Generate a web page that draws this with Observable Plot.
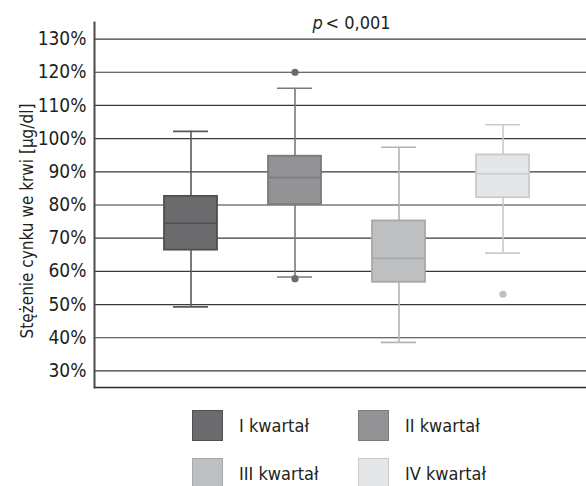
<!DOCTYPE html>
<html>
<head>
<meta charset="utf-8">
<script src="https://cdn.jsdelivr.net/npm/d3@7"></script>
<script src="https://cdn.jsdelivr.net/npm/@observablehq/plot@0.6"></script>
<style>
  html, body { margin: 0; padding: 0; background: #fff; }
  body { width: 586px; height: 486px; overflow: hidden; font-family: "Liberation Sans Narrow", "DejaVu Sans Condensed", "Roboto Condensed", sans-serif; }
  #chart svg { display: block; }
  #legend { position: relative; height: 94px; }
  .item { position: absolute; display: flex; align-items: center; font-size: 18px; color: #231f20; }
  .sw { width: 29px; height: 29px; border: 1px solid; margin-right: 16px; box-sizing: content-box; }
</style>
</head>
<body>
<div id="chart"></div>
<div id="legend"></div>
<script>
// ---- data ----
const categories = ["I kwartał", "II kwartał", "III kwartał", "IV kwartał"];
const whiskerLow = [49.3, 58.3, 38.6, 65.5];
const q1 = [66.4, 80.1, 56.7, 82.2];
const median = [74.5, 88.3, 63.9, 89.4];
const q3 = [82.6, 94.7, 75.2, 95.1];
const whiskerHigh = [102.2, 115.2, 97.4, 104.2];
const outlierCategory = ["II kwartał", "II kwartał", "IV kwartał"];
const outlierValue = [120, 57.8, 53.1];
const yTicks = [30, 40, 50, 60, 70, 80, 90, 100, 110, 120, 130];
const yLabel = "Stężenie cynku we krwi [µg/dl]";
const titleP = "p";
const titleRest = "< 0,001";

// ---- styles ----
const fills = ["#6b6b6e", "#939396", "#bebfc1", "#e5e6e7"];
const strokes = ["#4f4f52", "#7b7b7e", "#a7a8aa", "#c9cacc"];
const whiskerStrokes = ["#59595c", "#7a7a7d", "#b2b3b5", "#c9cacc"];
const dotFills = ["#6b6b6e", "#6b6b6e", "#bebfc1", "#bebfc1"];
const FONT = '"Liberation Sans Narrow", "DejaVu Sans Condensed", "Roboto Condensed", sans-serif';

const boxes = categories.map((c, i) => ({
  cat: c, lo: whiskerLow[i], q1: q1[i], med: median[i], q3: q3[i], hi: whiskerHigh[i]
}));
const outliers = outlierCategory.map((c, i) => ({cat: c, v: outlierValue[i]}));
const idx = c => categories.indexOf(c);

const plot = Plot.plot({
  width: 586,
  height: 392,
  marginLeft: 94,
  marginRight: 0,
  marginTop: 22,
  marginBottom: 5,
  style: {fontFamily: FONT, fontSize: "19px", color: "#231f20", background: "#fff"},
  x: {domain: categories, paddingInner: 0.494, paddingOuter: 0.597, align: 0.548, axis: null},
  y: {domain: [25, 135], axis: null},
  marks: [
    Plot.ruleY(yTicks, {stroke: "#3a3a3a", strokeWidth: 1.2}),
    Plot.ruleY([25], {stroke: "#2a2a2a", strokeWidth: 1.6}),
    Plot.ruleX(boxes, {x: "cat", y1: "lo", y2: "hi", stroke: d => whiskerStrokes[idx(d.cat)], strokeWidth: 1.6}),
    Plot.tickY(boxes, {x: "cat", y: "lo", stroke: d => whiskerStrokes[idx(d.cat)], strokeWidth: 1.6, insetLeft: 9, insetRight: 9}),
    Plot.tickY(boxes, {x: "cat", y: "hi", stroke: d => whiskerStrokes[idx(d.cat)], strokeWidth: 1.6, insetLeft: 9, insetRight: 9}),
    Plot.barY(boxes, {x: "cat", y1: "q1", y2: "q3", fill: d => fills[idx(d.cat)], stroke: d => strokes[idx(d.cat)], strokeWidth: 1.8}),
    Plot.tickY(boxes, {x: "cat", y: "med", stroke: d => strokes[idx(d.cat)], strokeWidth: 1.6}),
    Plot.dot(outliers, {x: "cat", y: "v", r: 3.6, fill: d => dotFills[idx(d.cat)], stroke: "none"}),
    Plot.frame({anchor: "left", stroke: "#4a4a4a", strokeWidth: 2}),
    Plot.axisY(yTicks, {tickSize: 0, tickPadding: 8, tickFormat: d => d + "%", fontSize: 19, label: null}),
    Plot.text([yLabel], {frameAnchor: "left", textAnchor: "middle", rotate: -90, dx: -67, dy: 16, fontSize: 17, fill: "#231f20"}),
    Plot.text([titleP], {frameAnchor: "top-left", dx: 218, dy: 1, lineAnchor: "middle", textAnchor: "start", fontSize: 18, fontStyle: "italic", fill: "#231f20"}),
    Plot.text([titleRest], {frameAnchor: "top-left", dx: 231, dy: 1, lineAnchor: "middle", textAnchor: "start", fontSize: 18, fill: "#231f20"})
  ]
});
document.getElementById("chart").appendChild(plot);

// ---- legend ----
const legend = document.getElementById("legend");
const legendPos = [[192, 18], [358, 18], [192, 66], [358, 66]];
categories.forEach((c, i) => {
  const item = document.createElement("div");
  item.className = "item";
  item.style.left = legendPos[i][0] + "px";
  item.style.top = legendPos[i][1] + "px";
  const sw = document.createElement("div");
  sw.className = "sw";
  sw.style.background = fills[i];
  sw.style.borderColor = strokes[i];
  const lab = document.createElement("span");
  lab.textContent = c;
  item.appendChild(sw);
  item.appendChild(lab);
  legend.appendChild(item);
});
</script>
</body>
</html>
